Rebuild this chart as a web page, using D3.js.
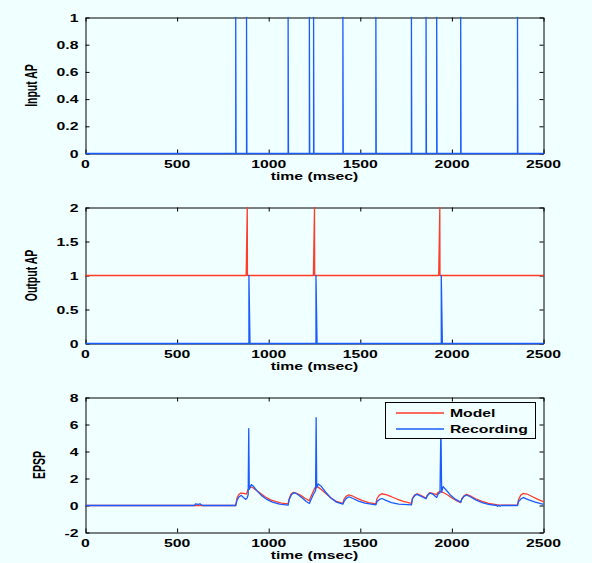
<!DOCTYPE html>
<html>
<head>
<meta charset="utf-8">
<script src="https://cdn.jsdelivr.net/npm/d3@7"></script>
<style>
  body { margin: 0; background: #f0ffff; }
  svg { display: block; }
</style>
</head>
<body>
<div class="chart"></div>
<script>
// spike times (msec)
var inputSpikes = [820, 879, 1106, 1222, 1245, 1405, 1585, 1779, 1859, 1917, 2048, 2358];
var modelSpikes = [883, 1250, 1934];
var recordSpikes = [892, 1258, 1942];

var xTicks = [0, 500, 1000, 1500, 2000, 2500];
var yTicks1 = [0, 0.2, 0.4, 0.6, 0.8, 1];
var yTicks2 = [0, 0.5, 1, 1.5, 2];
var yTicks3 = [-2, 0, 2, 4, 6, 8];

// EPSP traces [time, value]
var modelEPSP = [
  [0, 0], [820, 0], [826, 0.5], [835, 0.8], [848, 0.92], [865, 0.9], [879, 0.85], [886, 1.15], [900, 1.38], [910, 1.35],
  [930, 1.15], [955, 0.9], [980, 0.65], [1010, 0.42], [1040, 0.28], [1070, 0.18], [1106, 0.12],
  [1112, 0.5], [1122, 0.85], [1135, 0.97], [1150, 0.92], [1175, 0.75], [1200, 0.52], [1222, 0.35], [1228, 0.6],
  [1245, 1.1], [1250, 1.25], [1258, 1.42], [1268, 1.38], [1290, 1.15], [1315, 0.85], [1340, 0.55], [1370, 0.3], [1405, 0.15],
  [1411, 0.45], [1422, 0.68], [1435, 0.78], [1455, 0.72], [1480, 0.55], [1510, 0.38], [1545, 0.22], [1585, 0.12],
  [1591, 0.5], [1603, 0.75], [1617, 0.87], [1640, 0.8], [1670, 0.65], [1700, 0.48], [1735, 0.3], [1779, 0.15],
  [1785, 0.55], [1797, 0.78], [1810, 0.87], [1830, 0.75], [1859, 0.55], [1865, 0.75], [1878, 0.95], [1895, 0.9],
  [1917, 0.8], [1923, 0.95], [1935, 1.05], [1950, 0.98], [1975, 0.8], [2005, 0.52], [2030, 0.32], [2048, 0.22],
  [2054, 0.5], [2066, 0.72], [2080, 0.82], [2100, 0.72], [2130, 0.5], [2165, 0.3], [2200, 0.15], [2250, 0.05],
  [2300, 0.03], [2358, 0.04], [2364, 0.45], [2375, 0.75], [2390, 0.9], [2410, 0.85], [2440, 0.65], [2470, 0.45], [2500, 0.27]
];
var recordEPSP = [
  [0, 0], [595, 0], [600, 0.12], [615, 0.08], [625, 0.12], [637, 0.02], [640, 0], [820, 0], [826, 0.35], [838, 0.65],
  [850, 0.75], [862, 0.6], [875, 0.45], [882, 0.55], [888, 0.8], [891, 5.7], [894, 1.2], [905, 1.55], [915, 1.45],
  [935, 1.1], [960, 0.75], [990, 0.45], [1020, 0.25], [1060, 0.1], [1106, 0.03],
  [1112, 0.45], [1124, 0.8], [1138, 0.95], [1155, 0.85], [1180, 0.6], [1205, 0.3], [1222, 0.15], [1230, 0.4],
  [1245, 0.85], [1256, 1.1], [1259, 6.5], [1262, 1.3], [1270, 1.6], [1285, 1.45], [1310, 1.0], [1340, 0.55], [1370, 0.25], [1405, 0.1],
  [1411, 0.3], [1425, 0.55], [1438, 0.65], [1460, 0.52], [1490, 0.33], [1525, 0.17], [1585, 0.05],
  [1591, 0.3], [1605, 0.45], [1618, 0.52], [1640, 0.38], [1670, 0.22], [1710, 0.1], [1779, 0.05],
  [1785, 0.5], [1798, 0.75], [1810, 0.82], [1830, 0.7], [1859, 0.5], [1866, 0.72], [1880, 0.92], [1895, 0.85],
  [1917, 0.6], [1925, 0.85], [1935, 0.95], [1940, 5.9], [1944, 1.0], [1952, 1.4], [1965, 1.2], [1990, 0.8], [2020, 0.45], [2048, 0.25],
  [2054, 0.45], [2066, 0.68], [2080, 0.78], [2100, 0.65], [2130, 0.42], [2165, 0.22], [2200, 0.08], [2245, 0.0],
  [2250, -0.06], [2256, 0.02], [2262, -0.05], [2270, 0], [2358, 0.0],
  [2364, 0.3], [2378, 0.5], [2390, 0.58], [2420, 0.42], [2455, 0.25], [2500, 0.08]
];

var RED = "#ff3b2a";
var BLUE = "#1a5cff";
var BG = "#f0ffff";
var FONT = "'Liberation Sans', Arial, Helvetica, sans-serif";
var SX = 1.5; // the figure text is stretched sideways

var width = 592, height = 563;
var left = 85.5, right = 543.5;

var svg = d3.select('.chart')
    .append('svg')
    .attr("width", width)
    .attr("height", height);

svg.append("rect").attr("width", width).attr("height", height).attr("fill", BG);

var x = d3.scaleLinear().domain([0, 2500]).range([left, right]);

// build spike trains as point lists
function spikeTrain(times, base, up, rise, fall) {
  var pts = [[0, base]];
  times.forEach(function (t) {
    pts.push([t - rise, base]);
    pts.push([t, base + up]);
    pts.push([t + fall, base]);
  });
  pts.push([2500, base]);
  return pts;
}

function stretchText(sel, txt, anchor) {
  return sel.append("text")
    .attr("transform", "scale(" + SX + ",1)")
    .attr("text-anchor", anchor)
    .style("font-family", FONT)
    .style("font-weight", "bold")
    .style("font-size", "10.5px")
    .attr("fill", "#000")
    .text(txt);
}

function panel(top, h, yDomain, yTicks, yLabel, yLabelX, series) {
  var y = d3.scaleLinear().domain(yDomain).range([top + h, top]);
  var g = svg.append("g");

  var xAxis = d3.axisBottom(x).tickValues(xTicks).tickSize(-4).tickSizeOuter(0).tickFormat("");
  var xTop = d3.axisTop(x).tickValues(xTicks).tickSize(-4).tickSizeOuter(0).tickFormat("");
  var yAxis = d3.axisLeft(y).tickValues(yTicks).tickSize(-4).tickSizeOuter(0).tickFormat("");
  var yRight = d3.axisRight(y).tickValues(yTicks).tickSize(-4).tickSizeOuter(0).tickFormat("");

  g.append("g").attr("transform", "translate(0," + (top + h) + ")").call(xAxis);
  g.append("g").attr("transform", "translate(0," + top + ")").call(xTop);
  g.append("g").attr("transform", "translate(" + left + ",0)").call(yAxis);
  g.append("g").attr("transform", "translate(" + right + ",0)").call(yRight);
  g.selectAll(".domain, .tick line").attr("stroke", "#000").attr("stroke-width", 1);

  // tick labels
  xTicks.forEach(function (v) {
    var t = g.append("g").attr("transform", "translate(" + x(v) + "," + (top + h + 14) + ")");
    stretchText(t, v, "middle");
  });
  yTicks.forEach(function (v) {
    var t = g.append("g").attr("transform", "translate(" + (left - 7) + "," + (y(v) + 4) + ")");
    stretchText(t, v, "end");
  });

  var xl = g.append("g").attr("transform", "translate(" + ((left + right) / 2) + "," + (top + h + 26) + ")");
  stretchText(xl, "time (msec)", "middle");

  var yl = g.append("g").attr("transform", "translate(" + yLabelX + "," + (top + h / 2) + ") scale(" + SX + ",1) rotate(-90)");
  yl.append("text")
    .attr("text-anchor", "middle")
    .style("font-family", FONT)
    .style("font-weight", "bold")
    .style("font-size", "10.5px")
    .text(yLabel);

  var line = d3.line()
    .x(function (d) { return x(d[0]); })
    .y(function (d) { return y(d[1]); });

  series.forEach(function (s) {
    g.append("path")
      .datum(s.data)
      .attr("d", line)
      .attr("fill", "none")
      .attr("stroke", s.color)
      .attr("stroke-width", 1.3)
      .attr("stroke-linejoin", "round");
  });
  return g;
}

panel(17.5, 136, [0, 1], yTicks1, "Input AP", 37, [
  { data: spikeTrain(inputSpikes, 0, 1, 0, 2), color: BLUE }
]);

panel(207.5, 136, [0, 2], yTicks2, "Output AP", 37, [
  { data: spikeTrain(modelSpikes, 1, 1, 6, 1), color: RED },
  { data: spikeTrain(recordSpikes, 0, 1, 0, 6), color: BLUE }
]);

var g3 = panel(397.5, 135, [-2, 8], yTicks3, "EPSP", 45, [
  { data: modelEPSP, color: RED },
  { data: recordEPSP, color: BLUE }
]);

// legend
var leg = g3.append("g");
leg.append("rect")
  .attr("x", 385.5).attr("y", 402.5)
  .attr("width", 150).attr("height", 36)
  .attr("fill", BG).attr("stroke", "#000").attr("stroke-width", 1);
var legItems = [
  { name: "Model", color: RED },
  { name: "Recording", color: BLUE }
];
legItems.forEach(function (d, i) {
  var yy = 413 + i * 16;
  leg.append("line")
    .attr("x1", 396).attr("x2", 444)
    .attr("y1", yy).attr("y2", yy)
    .attr("stroke", d.color).attr("stroke-width", 1.3);
  var t = leg.append("g").attr("transform", "translate(450," + (yy + 4) + ")");
  stretchText(t, d.name, "start");
});
</script>
</body>
</html>
